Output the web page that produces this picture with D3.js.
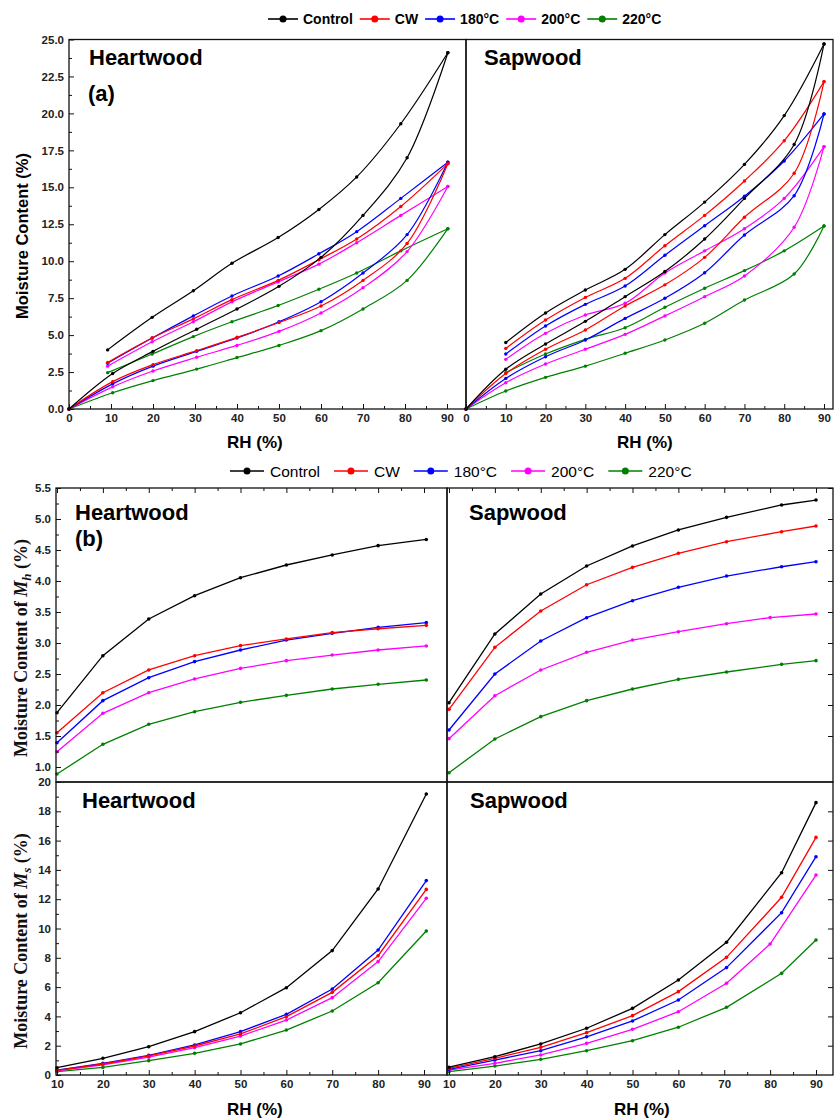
<!DOCTYPE html>
<html><head><meta charset="utf-8">
<script src="https://cdn.jsdelivr.net/npm/d3@7"></script>
<style>body{margin:0;background:#fff}</style>
</head><body>
<svg id="c" width="835" height="1119"></svg>
<script>
// ---------- categories / colours ----------
const seriesNames = ["Control", "CW", "180°C", "200°C", "220°C"];
const seriesColors = ["#000000", "#ff0000", "#0000ff", "#ff00ff", "#008000"];

// ---------- (a) sorption isotherms ----------
const hwAdsRH = [0, 10.4, 20, 30.4, 40, 50, 60, 70, 80.5, 90.2];
const hwDesRH = [9.2, 19.8, 29.6, 38.8, 49.8, 59.5, 68.5, 79, 90.2];
const hwAds = [
  [0, 2.4, 3.9, 5.4, 6.77, 8.3, 10.26, 13.1, 17.0, 24.1],
  [0, 1.85, 3.0, 3.95, 4.85, 5.85, 6.97, 8.7, 11.2, 16.6],
  [0, 1.7, 2.9, 3.9, 4.8, 5.9, 7.26, 9.2, 11.8, 16.7],
  [0, 1.5, 2.57, 3.5, 4.3, 5.25, 6.5, 8.2, 10.65, 15.05],
  [0, 1.1, 1.92, 2.7, 3.48, 4.3, 5.3, 6.77, 8.7, 12.2]
];
const hwDes = [
  [4.0, 6.2, 8.0, 9.86, 11.6, 13.5, 15.7, 19.3, 24.1],
  [3.15, 4.8, 6.1, 7.4, 8.7, 10.1, 11.5, 13.7, 16.6],
  [3.1, 4.8, 6.3, 7.65, 9.0, 10.5, 12.0, 14.25, 16.7],
  [2.9, 4.55, 5.9, 7.25, 8.6, 9.8, 11.25, 13.1, 15.05],
  [2.46, 3.72, 4.9, 5.9, 7.0, 8.1, 9.2, 10.7, 12.2]
];
const swAdsRH = [0, 10, 20, 30, 40, 50, 60, 70, 82.5, 90];
const swDesRH = [10, 20, 30, 40, 50, 60, 70, 80, 90];
const swAds = [
  [0, 2.69, 4.4, 5.93, 7.6, 9.3, 11.5, 14.25, 17.9, 24.7],
  [0, 2.4, 4.04, 5.35, 6.97, 8.4, 10.26, 12.97, 15.95, 22.15],
  [0, 2.07, 3.54, 4.67, 6.13, 7.49, 9.22, 11.77, 14.43, 19.96],
  [0, 1.78, 3.04, 4.04, 5.05, 6.3, 7.6, 9.0, 12.3, 17.75],
  [0, 1.22, 2.14, 2.9, 3.77, 4.67, 5.8, 7.37, 9.13, 12.38]
];
const swDes = [
  [4.5, 6.5, 8.05, 9.45, 11.8, 14.0, 16.55, 19.85, 24.7],
  [4.1, 6.02, 7.55, 8.84, 11.05, 13.1, 15.43, 18.15, 22.15],
  [3.72, 5.62, 7.08, 8.32, 10.4, 12.4, 14.4, 16.78, 19.96],
  [3.36, 5.12, 6.36, 7.15, 9.2, 10.7, 12.2, 14.25, 17.75],
  [2.46, 3.72, 4.71, 5.5, 6.88, 8.17, 9.36, 10.7, 12.38]
];

// ---------- (b) Mh and Ms ----------
const hwRH = [10, 20, 30, 40, 50, 60, 70, 80, 90.5];
const swRH = [10, 20, 30, 40, 50, 60, 70.5, 82.5, 90];
const swRH200 = [10, 20, 30, 40, 50, 60, 70.5, 80, 90];
const hwMh = [
  [1.876, 2.795, 3.387, 3.763, 4.053, 4.258, 4.42, 4.57, 4.67],
  [1.553, 2.198, 2.565, 2.795, 2.957, 3.065, 3.167, 3.23, 3.285],
  [1.392, 2.07, 2.44, 2.70, 2.887, 3.048, 3.156, 3.253, 3.328],
  [1.247, 1.866, 2.198, 2.42, 2.59, 2.715, 2.806, 2.887, 2.952],
  [0.887, 1.366, 1.689, 1.892, 2.044, 2.156, 2.258, 2.334, 2.403]
];
const swMh = [
  [2.037, 3.145, 3.79, 4.242, 4.565, 4.823, 5.027, 5.226, 5.306],
  [1.93, 2.93, 3.516, 3.94, 4.22, 4.447, 4.634, 4.795, 4.887],
  [1.597, 2.5, 3.032, 3.408, 3.682, 3.898, 4.08, 4.23, 4.311],
  [1.457, 2.15, 2.565, 2.85, 3.048, 3.182, 3.311, 3.41, 3.468],
  [0.908, 1.452, 1.812, 2.07, 2.258, 2.414, 2.532, 2.656, 2.715]
];
const hwMs = [
  [0.5, 1.14, 1.93, 2.96, 4.25, 5.96, 8.49, 12.7, 19.18],
  [0.32, 0.75, 1.3, 1.98, 2.8, 3.98, 5.64, 8.14, 12.67],
  [0.34, 0.8, 1.34, 2.05, 2.96, 4.14, 5.87, 8.53, 13.27],
  [0.28, 0.7, 1.22, 1.87, 2.66, 3.75, 5.28, 7.74, 12.06],
  [0.23, 0.52, 0.98, 1.48, 2.12, 3.07, 4.37, 6.3, 9.83]
];
const swMs = [
  [0.53, 1.25, 2.12, 3.19, 4.55, 6.48, 9.06, 13.81, 18.59],
  [0.46, 1.14, 1.89, 2.89, 4.05, 5.69, 8.03, 12.13, 16.22],
  [0.39, 1.02, 1.66, 2.61, 3.69, 5.12, 7.33, 11.08, 14.9],
  [0.34, 0.8, 1.37, 2.16, 3.12, 4.32, 6.26, 8.94, 13.65],
  [0.23, 0.61, 1.07, 1.66, 2.34, 3.26, 4.62, 6.94, 9.22]
];

// ---------- tick values ----------
const aXTicks = [0, 10, 20, 30, 40, 50, 60, 70, 80, 90];
const aXMinor = [5, 15, 25, 35, 45, 55, 65, 75, 85];
const aYTicks = [0, 2.5, 5, 7.5, 10, 12.5, 15, 17.5, 20, 22.5, 25];
const aYMinor = [1.25, 3.75, 6.25, 8.75, 11.25, 13.75, 16.25, 18.75, 21.25, 23.75];
const bXTicks = [10, 20, 30, 40, 50, 60, 70, 80, 90];
const bXMinor = [15, 25, 35, 45, 55, 65, 75, 85];
const mhTicks = [1.0, 1.5, 2.0, 2.5, 3.0, 3.5, 4.0, 4.5, 5.0, 5.5];
const mhMinor = [1.25, 1.75, 2.25, 2.75, 3.25, 3.75, 4.25, 4.75, 5.25];
const msTicks = [0, 2, 4, 6, 8, 10, 12, 14, 16, 18, 20];
const msMinor = [1, 3, 5, 7, 9, 11, 13, 15, 17, 19];

// ---------- drawing ----------
const svg = d3.select("#c");
const SANS = "'Liberation Sans', Arial, sans-serif";
const SERIF = "'Liberation Serif', 'Times New Roman', serif";

function frame(x0, x1, y0, y1) {
  svg.append("rect").attr("x", x0).attr("y", y0).attr("width", x1 - x0).attr("height", y1 - y0)
    .attr("fill", "none").attr("stroke", "#111").attr("stroke-width", 1.3);
}
function axis(gen, tx, ty, values, size, labels, fmt) {
  const a = gen.tickValues(values).tickSize(size).tickPadding(5)
    .tickFormat(labels ? (fmt || (d => d)) : "");
  const g = svg.append("g").attr("transform", `translate(${tx},${ty})`).call(a);
  g.select(".domain").remove();
  g.selectAll(".tick line").attr("stroke", "#111").attr("stroke-width", 1);
  g.selectAll(".tick text").attr("font-family", SANS).attr("font-weight", "bold")
    .attr("font-size", "11.5px").attr("fill", "#222");
  return g;
}
function drawSeries(x, y, rh, vals, color, curve, w, r) {
  const pts = rh.map((v, i) => [v, vals[i]]);
  const line = d3.line().x(d => x(d[0])).y(d => y(d[1])).curve(curve);
  svg.append("path").attr("d", line(pts)).attr("fill", "none").attr("stroke", color).attr("stroke-width", w);
  svg.append("g").selectAll("circle").data(pts).join("circle")
    .attr("cx", d => x(d[0])).attr("cy", d => y(d[1])).attr("r", r).attr("fill", color);
}
function label(txt, x, y, size) {
  svg.append("text").attr("x", x).attr("y", y).text(txt).attr("font-family", SANS)
    .attr("font-weight", "bold").attr("font-size", size + "px").attr("fill", "#000");
}
function legend(x0, y, lineLen, gap, after, size, bold) {
  let x = x0;
  seriesNames.forEach((n, i) => {
    svg.append("line").attr("x1", x).attr("x2", x + lineLen).attr("y1", y).attr("y2", y)
      .attr("stroke", seriesColors[i]).attr("stroke-width", 1.6);
    svg.append("circle").attr("cx", x + lineLen / 2).attr("cy", y).attr("r", 3.5).attr("fill", seriesColors[i]);
    const t = svg.append("text").attr("x", x + lineLen + gap).attr("y", y + size * 0.36).text(n)
      .attr("font-family", SANS).attr("font-weight", bold ? "bold" : "normal")
      .attr("font-size", size + "px").attr("fill", "#000");
    x = x + lineLen + gap + t.node().getComputedTextLength() + after;
  });
}

// ===== Panel (a) =====
const xAh = d3.scaleLinear().domain([0, 90]).range([69, 447]);
const xAs = d3.scaleLinear().domain([0, 90]).range([466, 824]);
const yA = d3.scaleLinear().domain([0, 25]).range([409, 39.5]);
const fmt1 = d3.format(".1f");

[[xAh, hwAdsRH, hwDesRH, hwAds, hwDes], [xAs, swAdsRH, swDesRH, swAds, swDes]].forEach(([x, ar, dr, av, dv]) => {
  for (let i = seriesNames.length - 1; i >= 0; i--) {
    drawSeries(x, yA, ar, av[i], seriesColors[i], d3.curveCatmullRom, 1.2, 1.7);
    drawSeries(x, yA, dr, dv[i], seriesColors[i], d3.curveCatmullRom, 1.2, 1.7);
  }
});
frame(69, 466, 39.5, 409);
frame(466, 833, 39.5, 409);
axis(d3.axisLeft(yA), 69, 0, aYTicks, -5, true, fmt1);
axis(d3.axisLeft(yA), 69, 0, aYMinor, -3, false);
axis(d3.axisBottom(xAh), 0, 409, aXTicks, -5, true);
axis(d3.axisBottom(xAh), 0, 409, aXMinor, -3, false);
axis(d3.axisBottom(xAs), 0, 409, aXTicks, -5, true);
axis(d3.axisBottom(xAs), 0, 409, aXMinor, -3, false);

label("Heartwood", 89, 65, 22);
label("(a)", 88, 101, 22);
label("Sapwood", 484, 65, 22);
svg.append("text").attr("transform", "translate(28,236) rotate(-90)").attr("text-anchor", "middle")
  .text("Moisture Content (%)").attr("font-family", SANS).attr("font-weight", "bold").attr("font-size", "16.5px");
label("RH (%)", 227, 448, 17);
label("RH (%)", 617, 448, 17);
legend(268, 19, 30, 5, 7, 14, true);

// ===== Panel (b) =====
const xBh = d3.scaleLinear().domain([10, 90]).range([57, 424]);
const xBs = d3.scaleLinear().domain([10, 90]).range([449, 816]);
const yMh = d3.scaleLinear().domain([1.0, 5.5]).range([767, 488]);
const yMs = d3.scaleLinear().domain([0, 20]).range([1075, 782]);

for (let i = seriesNames.length - 1; i >= 0; i--) {
  const sr = i === 3 ? swRH200 : swRH;
  drawSeries(xBh, yMh, hwRH, hwMh[i], seriesColors[i], d3.curveLinear, 1.3, 1.8);
  drawSeries(xBs, yMh, sr, swMh[i], seriesColors[i], d3.curveLinear, 1.3, 1.8);
  drawSeries(xBh, yMs, hwRH, hwMs[i], seriesColors[i], d3.curveLinear, 1.3, 1.8);
  drawSeries(xBs, yMs, sr, swMs[i], seriesColors[i], d3.curveLinear, 1.3, 1.8);
}
frame(56, 447, 488, 782);
frame(447, 833, 488, 782);
frame(56, 447, 782, 1075);
frame(447, 833, 782, 1075);

axis(d3.axisLeft(yMh), 56, 0, mhTicks, -5, true, fmt1);
axis(d3.axisLeft(yMh), 56, 0, mhMinor, -3, false);
axis(d3.axisRight(yMh), 833, 0, mhTicks.slice(1), -5, false);
axis(d3.axisLeft(yMs), 56, 0, msTicks, -5, true);
axis(d3.axisLeft(yMs), 56, 0, msMinor, -3, false);
axis(d3.axisRight(yMs), 833, 0, msTicks.slice(1, -1), -5, false);
[xBh, xBs].forEach(x => {
  axis(d3.axisTop(x), 0, 488, bXTicks, -5, false);
  axis(d3.axisTop(x), 0, 488, bXMinor, -3, false);
  axis(d3.axisBottom(x), 0, 1075, bXTicks, -5, true);
  axis(d3.axisBottom(x), 0, 1075, bXMinor, -3, false);
});

label("Heartwood", 75, 520, 22);
label("(b)", 75, 546, 22);
label("Sapwood", 469, 520, 22);
label("Heartwood", 82, 808, 22);
label("Sapwood", 470, 808, 22);
label("RH (%)", 227, 1115, 17);
label("RH (%)", 614, 1115, 17);

function yTitle(cy, sub) {
  const t = svg.append("text").attr("transform", `translate(27,${cy}) rotate(-90)`).attr("text-anchor", "middle")
    .attr("font-family", SERIF).attr("font-weight", "bold").attr("font-size", "18px").attr("fill", "#111");
  t.append("tspan").text("Moisture Content of ");
  t.append("tspan").text("M").attr("font-style", "italic");
  t.append("tspan").text(sub).attr("font-style", "italic").attr("font-size", "13px").attr("dy", 4);
  t.append("tspan").text(" (%)").attr("dy", -4);
}
yTitle(648, "h");
yTitle(941, "s");
legend(230, 471, 34, 6, 14, 15.5, false);
</script>
</body></html>
